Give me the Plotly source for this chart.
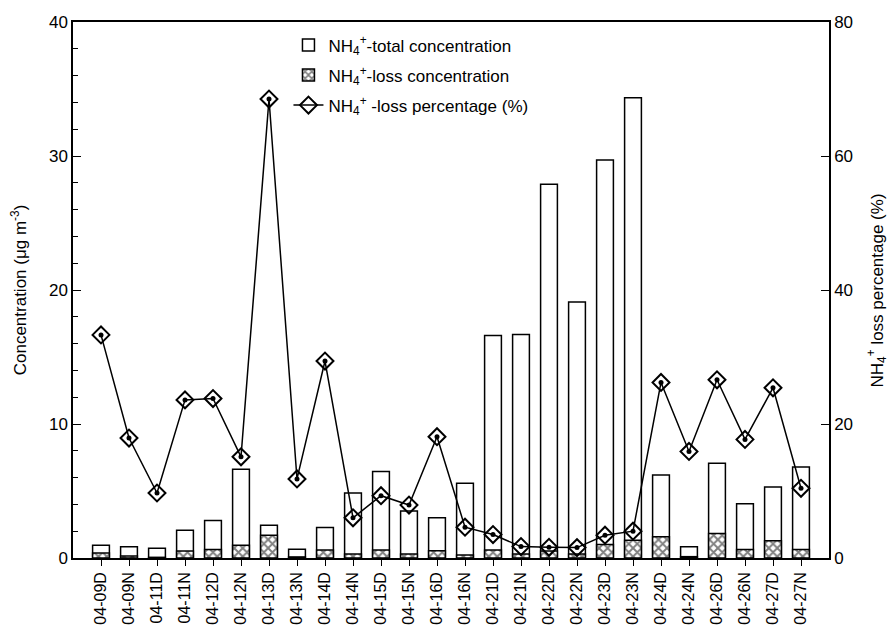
import plotly.graph_objects as go

categories = ["04-09D", "04-09N", "04-11D", "04-11N", "04-12D", "04-12N", "04-13D", "04-13N",
              "04-14D", "04-14N", "04-15D", "04-15N", "04-16D", "04-16N", "04-21D", "04-21N",
              "04-22D", "04-22N", "04-23D", "04-23N", "04-24D", "04-24N", "04-26D", "04-26N",
              "04-27D", "04-27N"]
total_conc = [0.96, 0.84, 0.72, 2.07, 2.8, 6.63, 2.44, 0.65, 2.27, 4.86, 6.45, 3.5, 3.0, 5.57,
              16.6, 16.68, 27.9, 19.1, 29.7, 34.35, 6.2, 0.84, 7.07, 4.04, 5.3, 6.8]
loss_conc = [0.37, 0.15, 0.05, 0.52, 0.64, 0.96, 1.70, 0.08, 0.59, 0.3, 0.59, 0.3, 0.54, 0.22,
             0.59, 0.3, 0.52, 0.3, 1.01, 1.33, 1.58, 0.1, 1.82, 0.64, 1.28, 0.64]
loss_pct = [33.3, 17.9, 9.7, 23.6, 23.8, 15.1, 68.5, 11.8, 29.4, 6.0, 9.3, 7.9, 18.1, 4.6,
            3.5, 1.7, 1.6, 1.55, 3.4, 4.0, 26.2, 15.9, 26.6, 17.7, 25.4, 10.4]

FONT = "Liberation Sans, Arial, sans-serif"
NH4 = "NH<sub>4</sub><sup>+</sup>"

fig = go.Figure()
fig.add_trace(go.Bar(
    x=categories, y=total_conc, name=NH4 + "-total concentration", legendgroup="a",
    width=0.6, marker=dict(color="white", line=dict(color="black", width=1.5)),
))
fig.add_trace(go.Bar(
    x=categories, y=loss_conc, name=NH4 + "-loss concentration", legendgroup="b",
    width=0.6, marker=dict(color="white", line=dict(color="black", width=1.5),
                           pattern=dict(shape="x", fgcolor="black", bgcolor="white",
                                        size=6, solidity=0.55)),
))
fig.add_trace(go.Scatter(
    x=categories, y=loss_pct, name=NH4 + " -loss percentage (%)", yaxis="y2", legendgroup="c",
    mode="lines+markers",
    line=dict(color="black", width=1.5),
    marker=dict(symbol="diamond-open", size=13, color="black", line=dict(width=2)),
))
fig.add_trace(go.Scatter(
    x=categories, y=loss_pct, yaxis="y2", showlegend=False, hoverinfo="skip",
    mode="markers", marker=dict(symbol="circle", size=5, color="black"),
))

fig.update_layout(
    width=896, height=637,
    margin=dict(l=73, r=67, t=22, b=74),
    paper_bgcolor="white", plot_bgcolor="white",
    barmode="overlay",
    font=dict(family=FONT, size=17, color="black"),
    showlegend=True,
    legend=dict(x=0.285, y=0.99, xanchor="left", yanchor="top",
                bgcolor="rgba(0,0,0,0)", font=dict(size=17),
                traceorder="grouped", itemwidth=30, tracegroupgap=5),
    xaxis=dict(
        type="category", range=[-1, len(categories)],
        showline=True, linecolor="black", linewidth=1.5, mirror=True,
        ticks="outside", ticklen=6, tickwidth=1.2, tickcolor="black",
        tickangle=-90, tickfont=dict(size=16), showgrid=False, zeroline=False,
    ),
    yaxis=dict(
        range=[0, 40], dtick=10, showline=True, linecolor="black", linewidth=1.5,
        ticks="inside", ticklen=8, tickwidth=1.2, tickcolor="black",
        minor=dict(dtick=2, ticks="inside", ticklen=5, tickwidth=1.2, tickcolor="black"),
        showgrid=False, zeroline=False, tickfont=dict(size=17),
        title=dict(text="Concentration (μg m<sup>-3</sup>)", font=dict(size=17), standoff=18),
    ),
    yaxis2=dict(
        range=[0, 80], dtick=20, overlaying="y", side="right",
        showline=True, linecolor="black", linewidth=1.5,
        ticks="inside", ticklen=8, tickwidth=1.2, tickcolor="black",
        showgrid=False, zeroline=False, tickfont=dict(size=17),
    ),
    annotations=[dict(
        text=NH4 + " loss percentage (%)", textangle=-90,
        xref="paper", yref="paper", x=1.082, y=0.5, xanchor="right", yanchor="middle",
        showarrow=False, font=dict(size=17),
    )],
)

fig.write_html("out.html")
